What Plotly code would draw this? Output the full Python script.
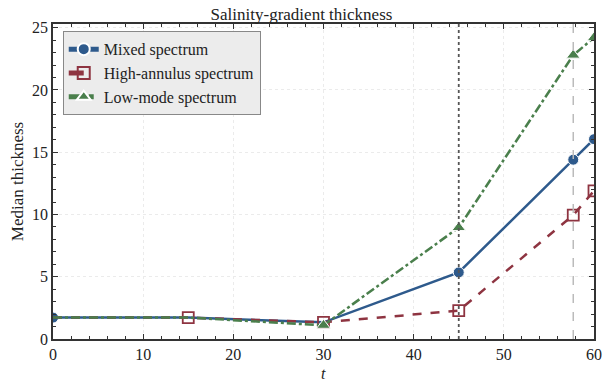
import plotly.graph_objects as go

t = [0, 15, 30, 45, 57.7, 60]
mixed = [1.72, 1.72, 1.34, 5.35, 14.4, 16.05]
high_annulus = [1.72, 1.72, 1.34, 2.28, 9.95, 11.9]
low_mode = [1.72, 1.72, 1.1, 8.95, 22.8, 24.2]
mixed_marks = [1, 0, 0, 1, 1, 1]
high_marks = [0, 1, 1, 1, 1, 1]
low_marks = [0, 0, 1, 1, 1, 1]
event_t = 45
final_t = 57.7

FONT = "Liberation Serif, Times New Roman, serif"
blue, red, green = "#2E5A8C", "#8E3441", "#4A7F4C"

fig = go.Figure()
fig.add_trace(go.Scatter(x=t, y=mixed, name="Mixed spectrum", mode="lines+markers",
    line=dict(color=blue, width=2.5),
    marker=dict(symbol="circle", size=[11 * m for m in mixed_marks], color=blue, opacity=1)))
fig.add_trace(go.Scatter(x=t, y=high_annulus, name="High-annulus spectrum", mode="lines+markers",
    line=dict(color=red, width=2.5, dash="dash"),
    marker=dict(symbol="square-open", size=[11 * m for m in high_marks], color=red, opacity=1,
                line=dict(width=1.8, color=red))))
fig.add_trace(go.Scatter(x=t, y=low_mode, name="Low-mode spectrum", mode="lines+markers",
    line=dict(color=green, width=2.5, dash="dashdot"),
    marker=dict(symbol="triangle-up", size=[12 * m for m in low_marks], color=green, opacity=1)))

fig.add_vline(x=event_t, line=dict(color="#555555", width=1.8, dash="dot"))
fig.add_vline(x=final_t, line=dict(color="#bbbbbb", width=1.5, dash="dash"))

axis_common = dict(showline=True, linecolor="#333333", linewidth=1.5, mirror="ticks",
                   ticks="inside", ticklen=5, tickcolor="#333333", automargin=False,
                   ticklabeloverflow="allow",
                   showgrid=True, gridcolor="#ebebeb", griddash="3px,3px", gridwidth=1,
                   zeroline=False, tickfont=dict(family=FONT, size=16, color="#222"))
fig.update_xaxes(range=[0, 60], dtick=10,
                 minor=dict(dtick=2, ticks="inside", ticklen=3, tickcolor="#333333"), **axis_common)
fig.update_yaxes(range=[0, 25.3], dtick=5, title=dict(text="Median thickness", font=dict(family=FONT, size=17, color="#222"), standoff=4),
                 minor=dict(dtick=1, ticks="inside", ticklen=3, tickcolor="#333333"), **axis_common)

fig.add_annotation(text="<i>t</i>", xref="paper", yref="paper", x=0.5, y=-44 / 315,
                   xanchor="center", yanchor="bottom", showarrow=False, borderpad=0,
                   font=dict(family=FONT, size=16, color="#222"))

fig.update_layout(
    width=603, height=383,
    margin=dict(l=53, r=9, t=24, b=44),
    plot_bgcolor="white", paper_bgcolor="white",
    title=dict(text="Salinity-gradient thickness", x=0.5, xanchor="center", y=0.978, yanchor="top",
               font=dict(family=FONT, size=17, color="#222")),
    legend=dict(x=0.018, y=0.977, xanchor="left", yanchor="top", itemsizing="constant",
                bgcolor="#ececec", bordercolor="#888888", borderwidth=1,
                font=dict(family=FONT, size=16, color="#222"), tracegroupgap=0),
    showlegend=True,
)

fig.write_html("out.html")
